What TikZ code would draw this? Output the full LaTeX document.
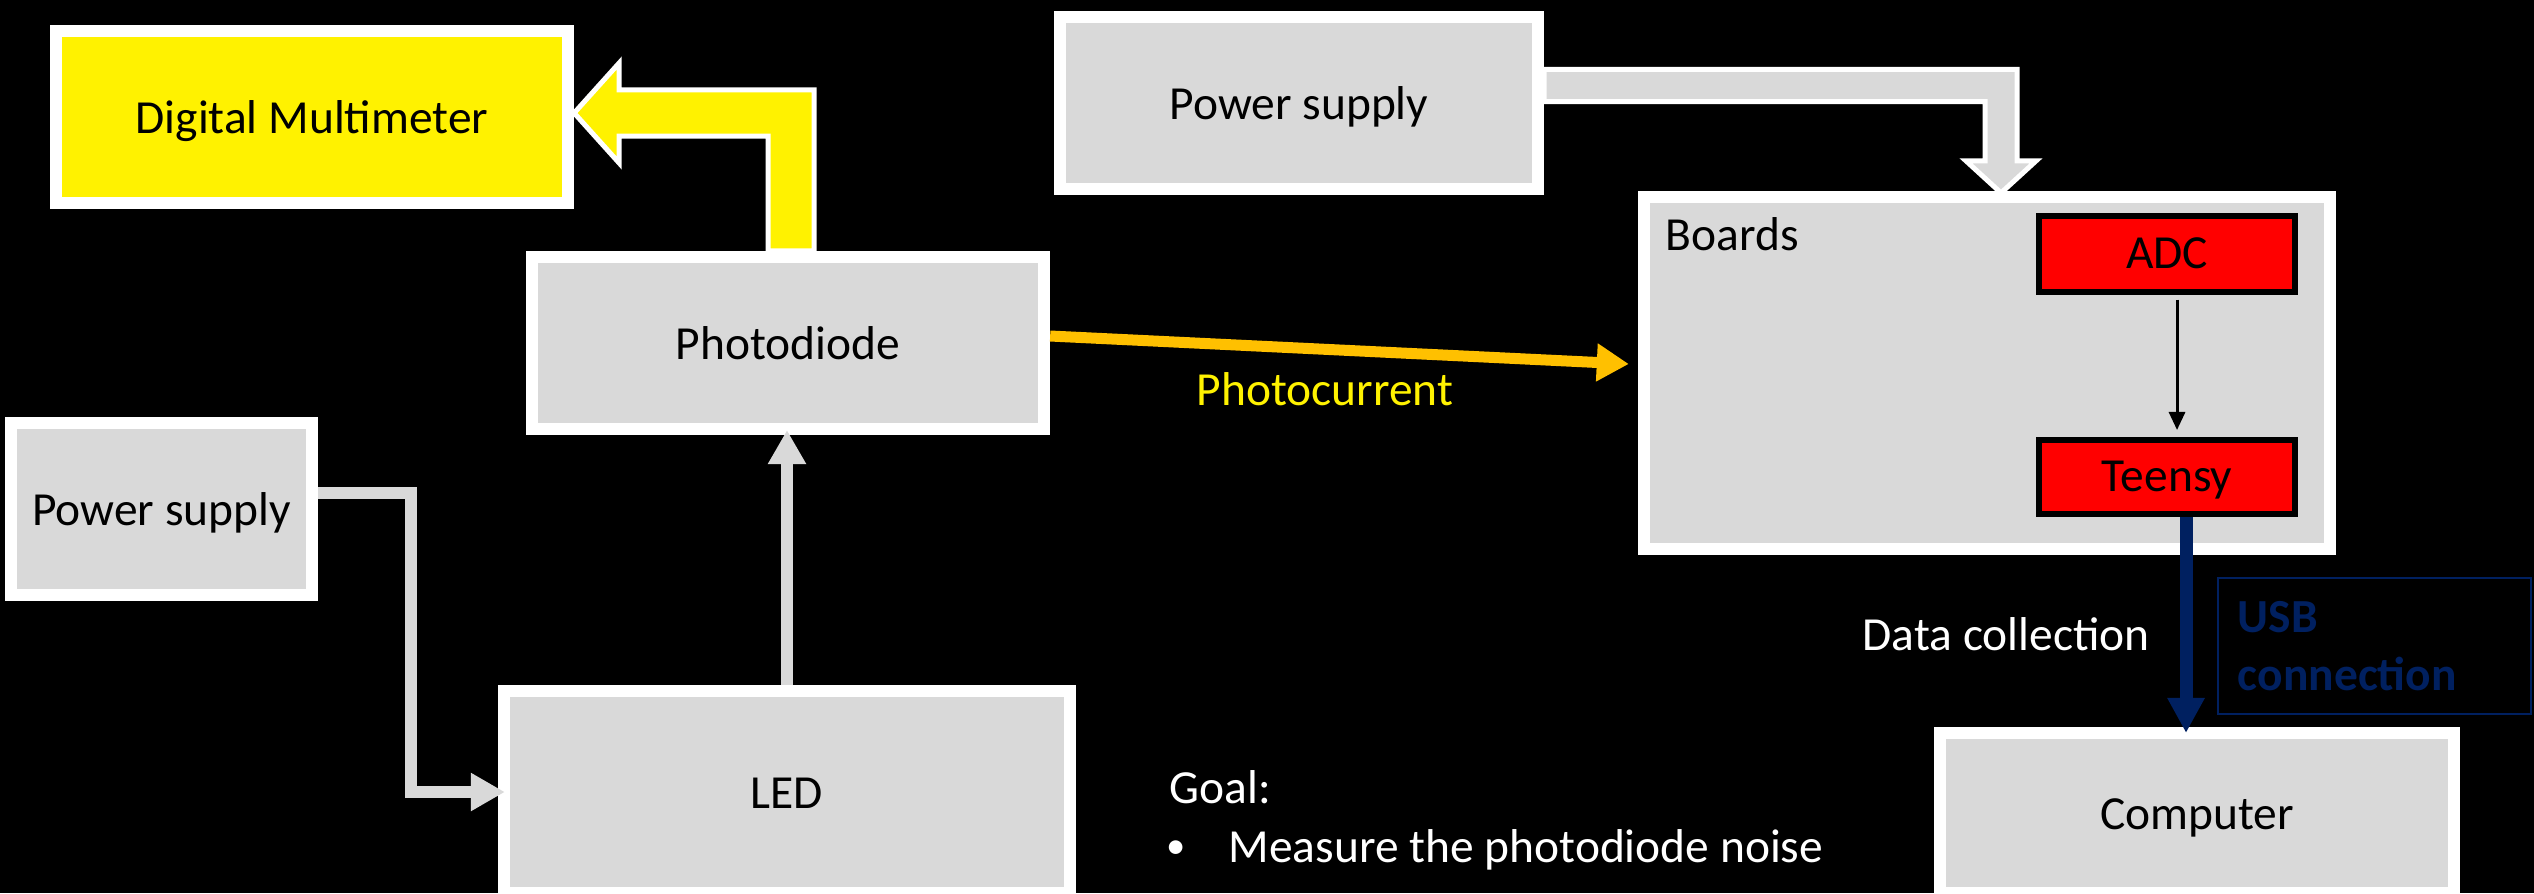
\documentclass[tikz,border=0pt]{standalone}
\usepackage{fontspec}
\setmainfont{Carlito}
\usetikzlibrary{arrows.meta}

\definecolor{boxGray}{RGB}{217,217,217}
\definecolor{arrowGold}{RGB}{255,192,0}
\definecolor{usbNavy}{RGB}{0,32,96}
\newcommand{\diagfont}{\fontsize{13.5pt}{16.5pt}\selectfont}

\tikzset{
  box/.style={draw=white, line width=1.2mm, fill=boxGray, inner sep=0pt, text=black,
    text height=9.2pt, text depth=0pt},
  chip/.style={draw=black, line width=0.6mm, fill=red, inner sep=0pt, text=black,
    text height=8.2pt, text depth=0pt, minimum width=2.56cm, minimum height=0.75cm},
  lbl/.style={inner sep=0pt},
  blockarrow/.style={draw=white, line width=0.5mm},
  wire/.style={draw=boxGray, line width=1.2mm, -{Triangle[length=3.4mm,width=3.6mm]}},
  goldwire/.style={draw=arrowGold, line width=1.1mm, -{Triangle[length=3.2mm,width=3.6mm]}},
  usbwire/.style={draw=usbNavy, line width=1.3mm, -{Triangle[length=3.5mm,width=3.5mm]}},
  thinwire/.style={draw=black, line width=0.3mm, -{Triangle[length=1.8mm,width=1.6mm]}},
  usbbox/.style={draw=usbNavy, line width=0.25mm, text=usbNavy, font=\diagfont\bfseries,
    text width=2.73cm, align=left, inner xsep=2mm, inner ysep=0pt, minimum height=1.36cm}
}

\begin{document}
\begin{tikzpicture}[font=\diagfont]
% picture in pixel units of the slide
\def\pxsz{0.01cm}
\begin{scope}[x=\pxsz, y=-\pxsz]
  \useasboundingbox (0,0) rectangle (2534,893);
  % Background
  \fill[black] (0,0) rectangle (2534,893);
  % Boxes
  \node[box, fill=yellow, minimum width=5.12cm, minimum height=1.72cm] (dmm) at (312,117) {Digital Multimeter};
  \node[box, minimum width=5.12cm, minimum height=1.72cm] (pd) at (788,343) {Photodiode};
  \node[box, minimum width=3.01cm, minimum height=1.72cm] (psl) at (161.5,509) {Power supply};
  \node[box, minimum width=5.66cm, minimum height=2.02cm] (led) at (787,792) {LED};
  \node[box, minimum width=4.78cm, minimum height=1.72cm] (pst) at (1299,103) {Power supply};
  \node[box, minimum width=6.86cm, minimum height=3.52cm] (boards) at (1987,373) {};
  \node[box, minimum width=5.14cm, minimum height=1.60cm] (computer) at (2197,813) {Computer};
  % Chips on the boards
  \node[chip] (adc) at (2167,254) {ADC};
  \node[chip, minimum height=0.74cm] (teensy) at (2167,477) {Teensy};
  \node[usbbox] (usb) at (2374.5,646) {USB\\connection};
  % Labels
  \node[lbl, anchor=base west] (boardslbl) at ([xshift=2.7mm,yshift=-6mm]boards.north west) {Boards};
  \node[lbl, anchor=base west, text=yellow] (photocur) at (1196,405) {Photocurrent};
  \node[lbl, anchor=base west, text=white] (datacoll) at (1862,650) {Data collection};
  \node[lbl, anchor=base west, text=white] (goal) at (1169,803) {Goal:};
  \node[lbl, anchor=base west, text=white, font=\fontsize{11pt}{13pt}\selectfont] (bullet) at (1166,858) {•};
  \node[lbl, anchor=base west, text=white] (goaltxt) at (1228,862) {Measure the photodiode noise};
  % Block arrow photodiode -> multimeter
  \coordinate (ydown) at ([xshift=0.3mm]pd.north);
  \coordinate (ytip) at ([yshift=0.4mm]dmm.east);
  \filldraw[blockarrow, fill=yellow]
    ([xshift=2.3mm]ydown) |- ([xshift=4.5mm,yshift=2.3mm]ytip)
    -- ++(0,2.7mm) -- (ytip) -- ++(4.5mm,-5mm) -- ++(0,2.7mm)
    -| ([xshift=-2.3mm]ydown) -- cycle;
  % Block arrow power supply -> boards
  \coordinate (pfrom) at ([yshift=1.75mm]pst.east);
  \coordinate (ptip) at ([xshift=1.4mm,yshift=-0.2mm]boards.north);
  \filldraw[blockarrow, fill=boxGray]
    ([yshift=1.6mm]pfrom) -| ([xshift=1.6mm,yshift=3.2mm]ptip)
    -- ++(1.9mm,0) -- (ptip) -- ++(-3.5mm,3.2mm) -- ++(1.9mm,0)
    |- ([yshift=-1.6mm]pfrom) -- cycle;
  % Connectors
  \draw[wire] ([yshift=1.6mm]psl.east) -- ++(9.25mm,0) |- ([xshift=0.7mm]led.west);
  \draw[wire, shorten >=-0.5mm] (led.north) -- (led.north |- pd.south);
  \draw[goldwire] ([yshift=0.7mm]pd.east) -- ([xshift=-0.9mm,yshift=0.9mm]boards.west);
  \coordinate (adcout) at ([xshift=1mm]adc.south);
  \draw[thinwire, shorten <=0.5mm, shorten >=0.7mm] (adcout) -- (adcout |- teensy.north);
  \coordinate (usbtop) at ([xshift=1.9mm]teensy.south);
  \draw[usbwire, shorten >=-0.6mm] (usbtop) -- (usbtop |- computer.north);
\end{scope}
\end{tikzpicture}
\end{document}
